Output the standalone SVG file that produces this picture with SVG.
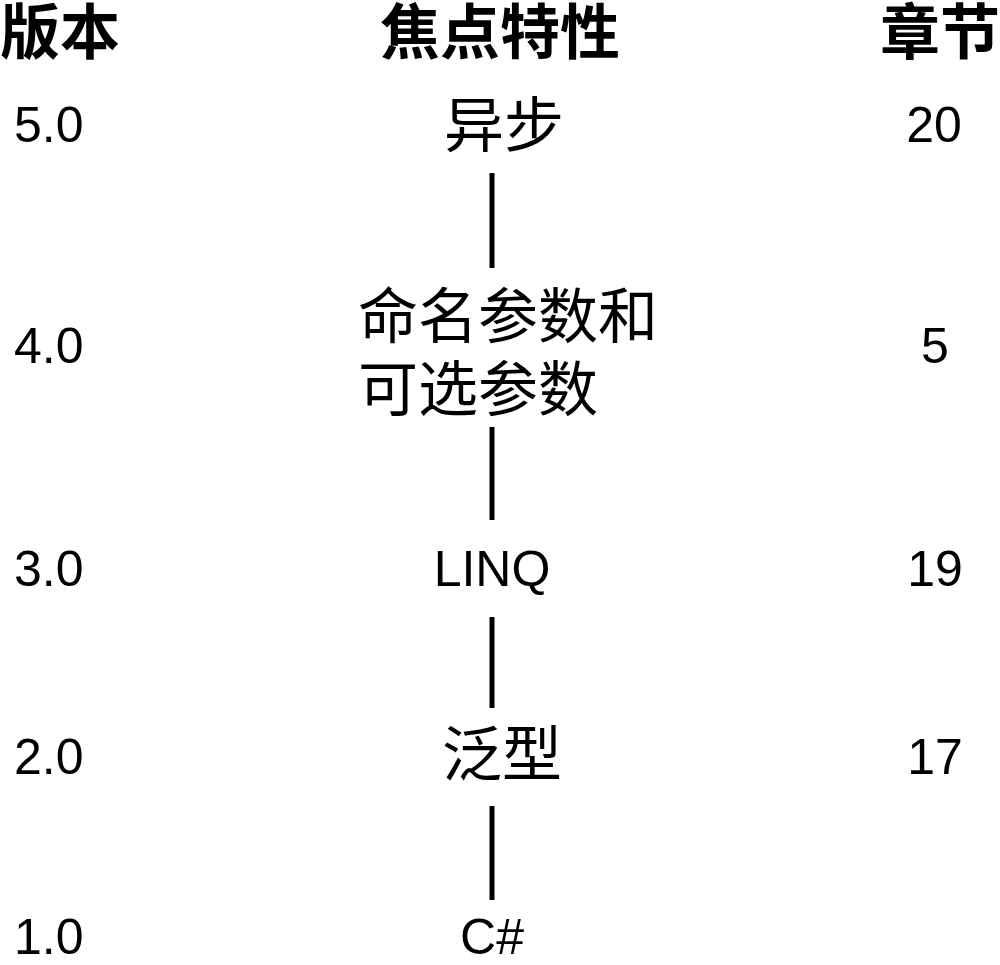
<svg xmlns="http://www.w3.org/2000/svg" width="1000" height="965" viewBox="0 0 1000 965">
<style>
.hd{font-family:"Liberation Sans","Noto Sans CJK SC",sans-serif;font-weight:bold;font-size:60px;fill:#000}
.num{font-family:"Liberation Sans",Arial,sans-serif;font-size:50px;fill:#000}
.cj{font-family:"Liberation Sans","Noto Sans CJK SC",sans-serif;font-size:60px;fill:#000}
.ln{stroke:#000;stroke-width:5;fill:none}
</style>
<rect width="1000" height="965" fill="#fff"/>
<g id="headers">
<text class="hd" x="0" y="54">版本</text>
<text class="hd" x="500" y="54" text-anchor="middle">焦点特性</text>
<text class="hd" x="1000" y="54" text-anchor="end">章节</text>
</g>
<g id="v5">
<text class="num" x="14" y="142">5.0</text>
<text class="cj" x="504" y="147" text-anchor="middle">异步</text>
<text class="num" x="934" y="142" text-anchor="middle">20</text>
</g>
<g id="v4">
<text class="num" x="14" y="363">4.0</text>
<text class="cj"><tspan x="358" y="338">命名参数和</tspan><tspan x="358" y="411">可选参数</tspan></text>
<text class="num" x="935" y="363" text-anchor="middle">5</text>
</g>
<g id="v3">
<text class="num" x="14" y="586">3.0</text>
<text class="num" x="492" y="586" text-anchor="middle">LINQ</text>
<text class="num" x="935" y="586" text-anchor="middle">19</text>
</g>
<g id="v2">
<text class="num" x="14" y="774">2.0</text>
<text class="cj" x="502" y="776" text-anchor="middle">泛型</text>
<text class="num" x="935" y="774" text-anchor="middle">17</text>
</g>
<g id="v1">
<text class="num" x="14" y="954">1.0</text>
<text class="num" x="492" y="954" text-anchor="middle">C#</text>
</g>
<g id="connectors">
<line class="ln" x1="492" y1="173" x2="492" y2="268"/>
<line class="ln" x1="492" y1="427" x2="492" y2="520"/>
<line class="ln" x1="492" y1="617" x2="492" y2="708"/>
<line class="ln" x1="492" y1="806" x2="492" y2="900"/>
</g>
</svg>
